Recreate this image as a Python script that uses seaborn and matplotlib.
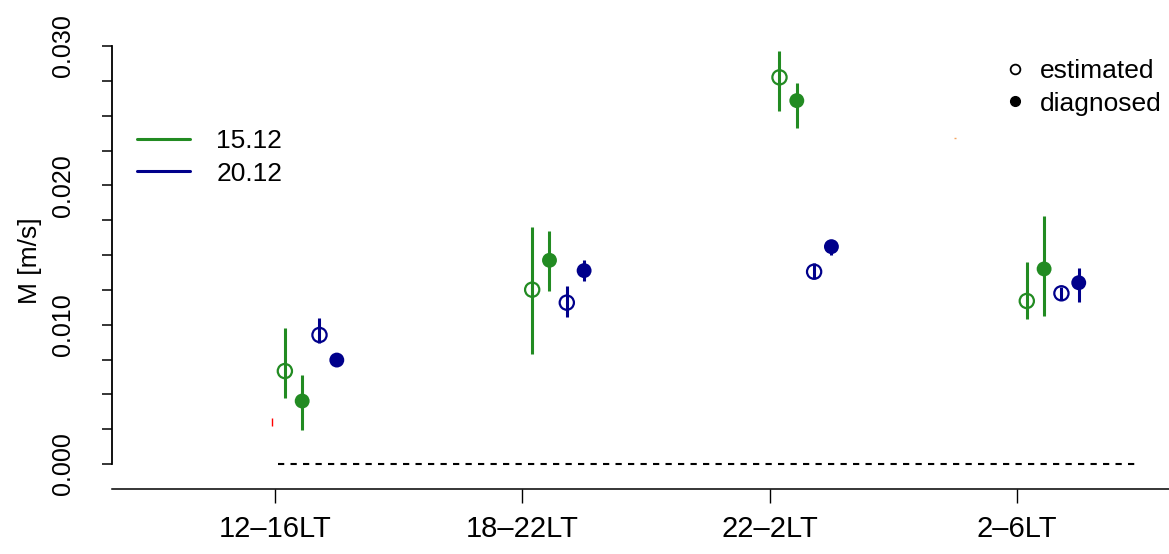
import pandas as pd
import matplotlib
matplotlib.use("Agg")
import matplotlib.pyplot as plt
from matplotlib.lines import Line2D
from matplotlib.ticker import MultipleLocator
import seaborn as sns

# --- datos ---
periods = ["12–16LT", "18–22LT", "22–2LT", "2–6LT"]
dates = ["15.12", "20.12"]

est_1512 = [0.00667, 0.01251, 0.02775, 0.01170]
est_1512_lo = [0.00474, 0.00789, 0.02534, 0.01039]
est_1512_hi = [0.00974, 0.01699, 0.02964, 0.01448]
diag_1512 = [0.00452, 0.01462, 0.02608, 0.01400]
diag_1512_lo = [0.00244, 0.01244, 0.02409, 0.01062]
diag_1512_hi = [0.00639, 0.01672, 0.02732, 0.01780]

est_2012 = [0.00926, 0.01158, 0.01380, 0.01225]
est_2012_lo = [0.00866, 0.01053, 0.01333, 0.01177]
est_2012_hi = [0.01050, 0.01280, 0.01445, 0.01268]
diag_2012 = [0.00746, 0.01388, 0.01560, 0.01301]
diag_2012_lo = [0.00735, 0.01313, 0.01500, 0.01165]
diag_2012_hi = [0.00757, 0.01464, 0.01590, 0.01409]

# estilos
COLORS = {"15.12": "#228B22", "20.12": "#00008B"}
OFFSETS = {("15.12", "estimated"): 0.04, ("15.12", "diagnosed"): 0.11,
           ("20.12", "estimated"): 0.18, ("20.12", "diagnosed"): 0.25}
FONT = "Liberation Sans"


def build_df():
    rows = []
    series = {
        ("15.12", "estimated"): (est_1512, est_1512_lo, est_1512_hi),
        ("15.12", "diagnosed"): (diag_1512, diag_1512_lo, diag_1512_hi),
        ("20.12", "estimated"): (est_2012, est_2012_lo, est_2012_hi),
        ("20.12", "diagnosed"): (diag_2012, diag_2012_lo, diag_2012_hi),
    }
    for (date, kind), (vals, lo, hi) in series.items():
        for i, p in enumerate(periods):
            rows.append({"period": p, "date": date, "kind": kind,
                         "x": i + OFFSETS[(date, kind)],
                         "M": vals[i], "lo": lo[i], "hi": hi[i]})
    return pd.DataFrame(rows)


def main():
    sns.set_style("ticks")
    plt.rcParams["font.family"] = [FONT, "DejaVu Sans"]
    for key in ["text.color", "axes.labelcolor", "xtick.color", "ytick.color", "axes.edgecolor"]:
        plt.rcParams[key] = "black"

    df = build_df()

    fig = plt.figure(figsize=(11.69, 5.54), dpi=100)
    ax = fig.add_axes([112 / 1169, 65 / 554, 1057 / 1169, 469 / 554])

    # linea de referencia en cero
    ax.plot([0.012, 3.498], [0, 0], color="black", lw=1.5, ls=(0, (3, 3)))

    # barras de error
    for date in dates:
        sub = df[df["date"] == date]
        ax.vlines(sub["x"], sub["lo"], sub["hi"], color=COLORS[date], lw=2.2, zorder=2)

    # puntos diagnosticados (rellenos)
    diag = df[df["kind"] == "diagnosed"]
    sns.scatterplot(data=diag, x="x", y="M", hue="date", palette=COLORS,
                    s=115, linewidth=0, legend=False, ax=ax, zorder=3)

    # puntos estimados (huecos)
    est = df[df["kind"] == "estimated"]
    sns.scatterplot(data=est, x="x", y="M", hue="date", palette=COLORS,
                    s=105, legend=False, ax=ax, zorder=3)
    coll = ax.collections[-1]
    fc = coll.get_facecolors()
    coll.set_edgecolors(fc)
    coll.set_facecolors("none")
    coll.set_linewidth(1.6)

    # marcas sueltas
    ax.vlines([-0.012], [0.0027], [0.0033], color="red", lw=1.0)
    ax.hlines([0.0234], [2.745], [2.755], color="#f4a460", lw=1.0)

    ax.set_xlim(-0.659, 3.615)
    ax.set_ylim(-0.001794, 0.031866)

    # ejes estilo R
    sns.despine(ax=ax, top=True, right=True)
    ax.spines["left"].set_bounds(0, 0.030)
    ax.spines["left"].set_linewidth(1.3)
    ax.spines["bottom"].set_linewidth(1.1)

    ax.set_yticks([0.0, 0.010, 0.020, 0.030])
    ax.set_yticklabels(["0.000", "0.010", "0.020", "0.030"], rotation=90, va="center",
                       fontsize=18)
    ax.yaxis.set_minor_locator(MultipleLocator(0.0025))
    ax.tick_params(axis="y", which="both", length=7.5, width=1.1, pad=19)

    ax.set_xticks(range(len(periods)))
    ax.set_xticklabels(periods, fontsize=21)
    ax.tick_params(axis="x", length=10, width=1.0, pad=9)

    ax.set_xlabel("")
    ax.set_ylabel("M [m/s]", fontsize=19)
    ax.yaxis.set_label_coords(-0.066, 0.486)

    # leyenda de fechas
    date_handles = [Line2D([], [], color=COLORS[d], lw=2.2) for d in dates]
    leg1 = ax.legend(date_handles, dates, loc="upper left", bbox_to_anchor=(0.0237, 0.768),
                     frameon=False, fontsize=19, handlelength=2.0, handletextpad=1.0,
                     labelspacing=0.33, borderpad=0, borderaxespad=0)
    ax.add_artist(leg1)

    # leyenda de tipo
    kind_handles = [
        Line2D([], [], ls="none", marker="o", markersize=7, mfc="none", mec="black", mew=1.3),
        Line2D([], [], ls="none", marker="o", markersize=7, mfc="black", mec="black"),
    ]
    ax.legend(kind_handles, ["estimated", "diagnosed"], loc="upper left",
              bbox_to_anchor=(0.842, 0.917), frameon=False, fontsize=19,
              handlelength=1.0, handletextpad=0.45, labelspacing=0.33,
              borderpad=0, borderaxespad=0)

    fig.savefig("out.png", dpi=100)


if __name__ == "__main__":
    main()
